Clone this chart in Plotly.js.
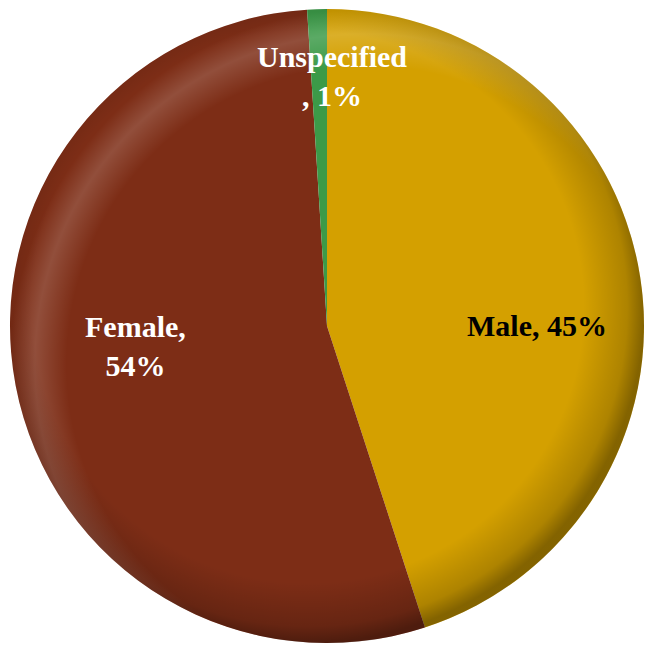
<!DOCTYPE html>
<html><head><meta charset="utf-8">
<script src="https://cdn.plot.ly/plotly-3.0.1.min.js"></script>
<style>html,body{margin:0;padding:0;background:#fff}</style>
</head><body><div id="chart" style="width:646px;height:647px"></div>
<script>
const labels = ["Male", "Female", "Unspecified"];
const values = [45, 54, 1];
const colors = ["#D4A000", "#7D2D16", "#3C9A48"];
const textColors = ["#000000", "#FFFFFF", "#FFFFFF"];
const labelText = ["Male, 45%", "Female,<br>54%", "Unspecified<br>, 1%"];
const labelPos = [[537, 325], [135, 346], [332, 76]];

const W = 646, H = 647;
const px0 = 10, py0 = 9, D = 634;
const data = [{
  type: "pie",
  labels: labels,
  values: values,
  sort: false,
  direction: "clockwise",
  rotation: 0,
  marker: {colors: colors, line: {width: 0}},
  textinfo: "none",
  hoverinfo: "label+percent",
  showlegend: false,
  domain: {x: [px0/W, (px0 + D)/W], y: [1 - (py0 + D)/H, 1 - py0/H]}
}];
const svg = '<svg xmlns="http://www.w3.org/2000/svg" width="634" height="634" viewBox="0 0 634 634">' +
  '<defs>' +
  '<radialGradient id="d" cx="0.47" cy="0.47" r="0.53">' +
  '<stop offset="0.82" stop-color="#000" stop-opacity="0"/>' +
  '<stop offset="0.95" stop-color="#000" stop-opacity="0.18"/>' +
  '<stop offset="1" stop-color="#000" stop-opacity="0.38"/>' +
  '</radialGradient>' +
  '<radialGradient id="h" cx="0.56" cy="0.56" r="0.56">' +
  '<stop offset="0.84" stop-color="#fff" stop-opacity="0"/>' +
  '<stop offset="0.93" stop-color="#fff" stop-opacity="0.16"/>' +
  '<stop offset="1" stop-color="#fff" stop-opacity="0"/>' +
  '</radialGradient>' +
  '</defs>' +
  '<circle cx="317" cy="317" r="317" fill="url(#h)"/>' +
  '<circle cx="317" cy="317" r="317" fill="url(#d)"/>' +
  '</svg>';
const annotations = labels.map((l, i) => ({
  xref: "paper", yref: "paper",
  x: labelPos[i][0] / W, y: 1 - labelPos[i][1] / H,
  xanchor: "center", yanchor: "middle",
  text: "<b>" + labelText[i] + "</b>",
  showarrow: false,
  font: {family: "Liberation Serif, serif", size: 30, color: textColors[i]}
}));
const layout = {
  width: W, height: H,
  margin: {l: 0, r: 0, t: 0, b: 0},
  paper_bgcolor: "#fff",
  annotations: annotations,
  images: [{
    source: "data:image/svg+xml;charset=utf-8," + encodeURIComponent(svg),
    xref: "paper", yref: "paper",
    x: px0/W, y: 1 - py0/H, sizex: D/W, sizey: D/H,
    xanchor: "left", yanchor: "top", sizing: "stretch", layer: "above"
  }]
};
Plotly.newPlot("chart", data, layout, {displayModeBar: false, staticPlot: true});
</script></body></html>
